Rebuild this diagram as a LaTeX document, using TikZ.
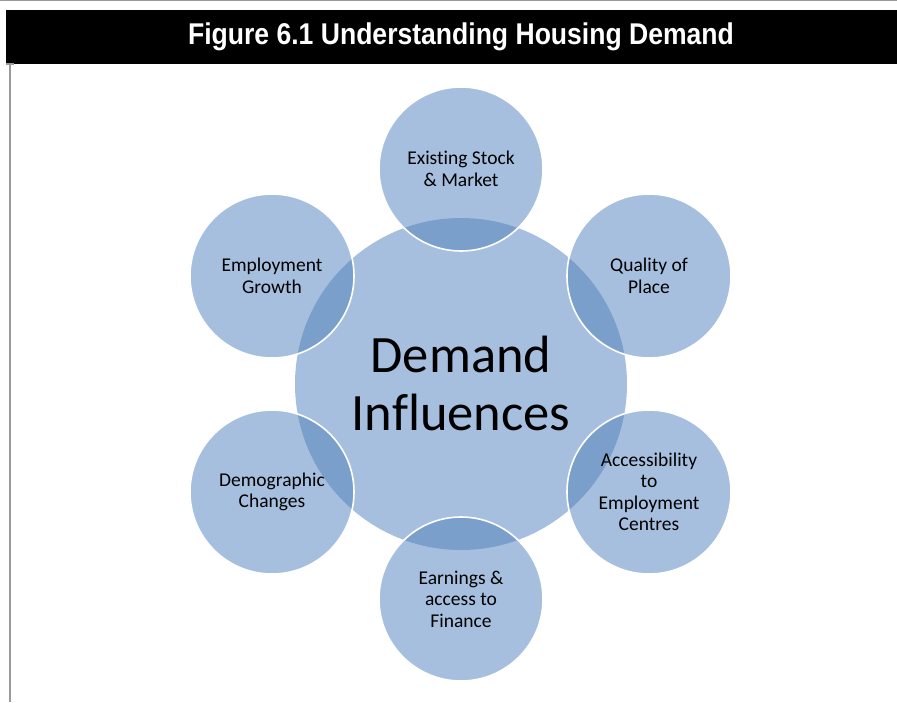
\documentclass[tikz,border=0pt]{standalone}
\usepackage{fontspec}
\setmainfont[Ligatures={NoCommon}]{Carlito}
\newfontfamily\headfont{Liberation Sans}
\definecolor{lightblue}{HTML}{A7BFDE}
\definecolor{darkblue}{HTML}{7B9FCB}
\definecolor{bordergray}{HTML}{9A9A9A}
\begin{document}
\begin{tikzpicture}[x=1pt,y=-1pt,
  hub/.style={circle,fill=lightblue,minimum size=332pt,inner sep=0pt},
  sat/.style={circle,fill=lightblue,minimum size=164pt,inner sep=0pt},
  label/.style={align=center,font=\fontsize{19.5}{21.5}\selectfont,text=black}]
\useasboundingbox (0,0) rectangle (897,702);
\fill[white] (0,0) rectangle (897,702);
% frame
\draw[bordergray,line width=1.2pt] (0,0.6) -- (897,0.6);
\fill[black] (6,10) rectangle (897,64);
\draw[bordergray,line width=2pt] (10,64) -- (10,702);
\draw[bordergray,line width=1.5pt] (6,64) -- (14,64);
\node[text=white,font=\headfont\bfseries\fontsize{30}{30}\selectfont] (title) at (461,37) {\scalebox{0.885}[1]{Figure 6.1 Understanding Housing Demand}};
% hub
\node[hub] (hub) at (461,384) {};
% satellites
\node[sat] (s1) at (461,169) {};
\node[sat] (s2) at (649,276) {};
\node[sat] (s3) at (649,492) {};
\node[sat] (s4) at (461,599) {};
\node[sat] (s5) at (272,492) {};
\node[sat] (s6) at (272,276) {};
% overlaps
\begin{scope}
\clip (hub.center) circle (166pt);
\foreach \s in {s1,s2,s3,s4,s5,s6}{\fill[darkblue] (\s.center) circle (82pt);}
\end{scope}
\foreach \s in {s1,s2,s3,s4,s5,s6}{\draw[white,line width=1.6pt] (\s.center) circle (82pt);}
% labels
\node[align=center,font=\fontsize{52.5}{58}\selectfont] (hubt) at (461,383) {Demand\\Influences};
\node[label] at (s1.center) {Existing Stock\\\& Market};
\node[label] at (s2.center) {Quality of\\Place};
\node[label] at (s3.center) {Accessibility\\to\\Employment\\Centres};
\node[label] at (s4.center) {Earnings \&\\access to\\Finance};
\node[label] at (s5.center) {Demographic\\Changes};
\node[label] at (s6.center) {Employment\\Growth};
\end{tikzpicture}
\end{document}
